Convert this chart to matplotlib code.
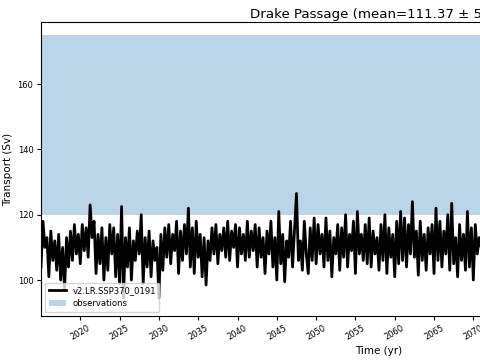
import numpy as np
import matplotlib
matplotlib.use("Agg")
import matplotlib.pyplot as plt

# Dados (valores trimestrais, Sv)
start_year = 2015.0
samples_per_year = 4
transport = [
    104, 118, 110, 113,   # 2015
    101, 115, 106, 112,   # 2016
    103, 114, 100, 110,   # 2017
    97, 113, 104, 115,    # 2018
    106, 117, 108, 114,   # 2019
    105, 117, 109, 116,   # 2020
    107, 123, 113, 118,   # 2021
    102, 114, 105, 116,   # 2022
    100, 113, 103, 117,   # 2023
    108, 116, 101, 114,   # 2024
    99, 122.5, 94.5, 113, # 2025
    104, 116, 100, 112,   # 2026
    106, 115, 108, 120,   # 2027
    99, 113, 104, 115,    # 2028
    101, 112, 106, 110,   # 2029
    94.5, 114, 103, 116,  # 2030
    107, 117, 105, 114,   # 2031
    109, 118, 102, 115,   # 2032
    106, 117, 108, 122,   # 2033
    104, 116, 102, 118,   # 2034
    107, 114, 101, 113,   # 2035
    98.5, 112, 106, 116,  # 2036
    108, 117, 105, 114,   # 2037
    109, 116, 107, 118,   # 2038
    106, 115, 110, 117,   # 2039
    104, 116, 108, 114,   # 2040
    106, 118, 107, 115,   # 2041
    109, 117, 104, 116,   # 2042
    107, 113, 102, 115,   # 2043
    108, 118, 104, 113,   # 2044
    100, 121, 105, 114,   # 2045
    99.5, 112, 107, 118,  # 2046
    104, 115, 126.5, 106, # 2047
    112, 103, 118, 108,   # 2048
    102, 116, 106, 119,   # 2049
    105, 117, 108, 114,   # 2050
    104, 119, 106, 115,   # 2051
    101, 113, 108, 117,   # 2052
    103, 116, 107, 120,   # 2053
    104, 114, 109, 118,   # 2054
    102, 121, 108, 114,   # 2055
    106, 117, 105, 119,   # 2056
    104, 115, 108, 113,   # 2057
    103, 117, 106, 120,   # 2058
    102, 116, 107, 114,   # 2059
    101, 118, 105, 121,   # 2060
    106, 119, 104, 117,   # 2061
    108, 124, 107, 115,   # 2062
    101.5, 118, 106, 114, # 2063
    103, 116, 108, 117,   # 2064
    102, 122, 106, 118,   # 2065
    104, 115, 108, 120,   # 2066
    103, 123.5, 105, 113, # 2067
    101, 117, 106, 114,   # 2068
    103, 121, 104, 116,   # 2069
    100, 117, 108, 113,   # 2070
    110, 116, 109, 114,   # 2071
]
obs_low = 120.0
obs_high = 175.0
run_name = "v2.LR.SSP370_0191"
title = "Drake Passage (mean=111.37 \u00b1 5.12)"

years = start_year + np.arange(len(transport)) / samples_per_year

fig = plt.figure(figsize=(4.8, 3.6), dpi=100)
# eixo mais largo que a figura (a figura original foi recortada)
ax = fig.add_axes([41 / 480, 44 / 360, 676 / 480, 294 / 360])

ax.plot(years, transport, color="black", lw=2, label=run_name)
ax.fill_between([2015, 2101], obs_low, obs_high, color="tab:blue",
                alpha=0.3, lw=0, label="observations")

ax.set_xlim(2015, 2101)
ax.set_ylim(89, 179)
ax.set_xticks(np.arange(2020, 2101, 5))
ax.set_yticks([100, 120, 140, 160])
ax.tick_params(labelsize=6, length=3, pad=2.5)
for lbl in ax.get_xticklabels():
    lbl.set_rotation(30)
    lbl.set_ha("center")

ax.set_xlabel("Time (yr)", fontsize=7.5, labelpad=3)
ax.set_ylabel("Transport (Sv)", fontsize=7.5, labelpad=3)
ax.set_title(title, fontsize=9.6, pad=3)
ax.legend(loc="lower left", fontsize=6.1)

fig.savefig("out.png", dpi=100)
